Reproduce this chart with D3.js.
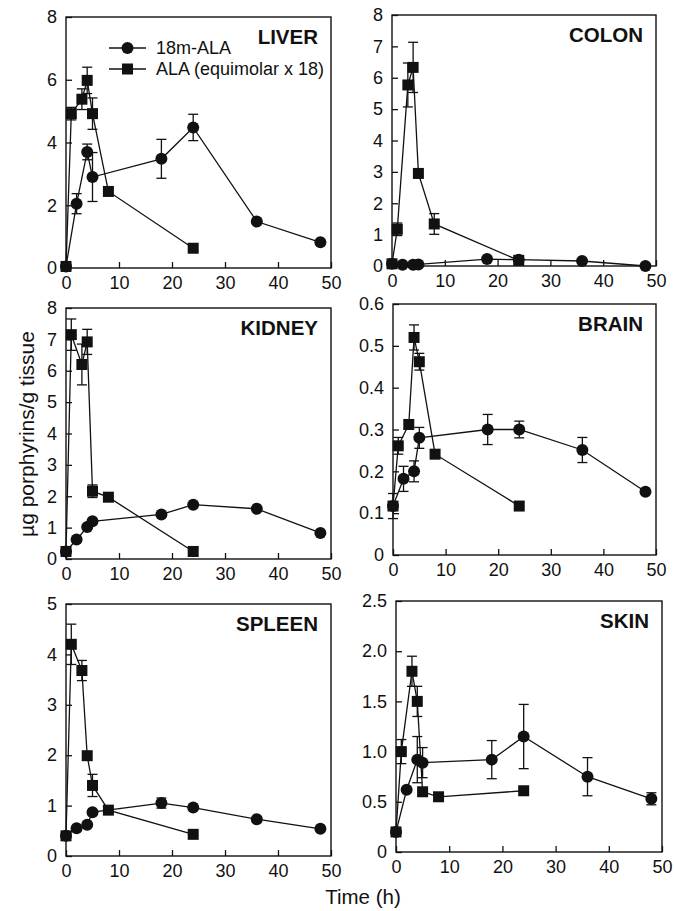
<!DOCTYPE html>
<html>
<head>
<meta charset="utf-8">
<script src="https://cdn.jsdelivr.net/npm/d3@7"></script>
<style>
  body { margin: 0; background: #fff; }
  svg { display: block; font-family: "Liberation Sans", Arial, Helvetica, sans-serif; }
</style>
</head>
<body>
<div id="chart"></div>
<script>
// sampling times (h)
var timesMALA = [0, 2, 4, 5, 18, 24, 36, 48];
var timesALA = [0, 1, 3, 4, 5, 8, 24];

// 18m-ALA series (mean, sd) per tissue
var liverMALA = [0.05, 2.05, 3.7, 2.9, 3.48, 4.48, 1.48, 0.82];
var liverMALAsd = [0, 0.32, 0.25, 0.78, 0.62, 0.42, 0, 0];
var colonMALA = [0.07, 0.04, 0.04, 0.05, 0.22, 0.2, 0.16, 0.0];
var colonMALAsd = [0, 0, 0, 0, 0, 0, 0.03, 0];
var kidneyMALA = [0.24, 0.62, 1.02, 1.2, 1.42, 1.73, 1.6, 0.83];
var kidneyMALAsd = [0, 0, 0, 0, 0, 0, 0, 0];
var brainMALA = [0.117, 0.182, 0.2, 0.28, 0.3, 0.3, 0.251, 0.151];
var brainMALAsd = [0.03, 0.03, 0.025, 0.025, 0.036, 0.02, 0.03, 0];
var spleenMALA = [0.4, 0.55, 0.62, 0.87, 1.05, 0.96, 0.73, 0.54];
var spleenMALAsd = [0, 0, 0, 0, 0.1, 0, 0.05, 0];
var skinMALA = [0.2, 0.62, 0.92, 0.89, 0.92, 1.15, 0.75, 0.53];
var skinMALAsd = [0, 0, 0.23, 0.15, 0.19, 0.32, 0.19, 0.06];

// ALA (equimolar x 18) series (mean, sd) per tissue
var liverALA = [0.05, 4.92, 5.38, 5.98, 4.92, 2.44, 0.63];
var liverALAsd = [0, 0.2, 0.33, 0.42, 0.5, 0, 0];
var colonALA = [0.07, 1.17, 5.77, 6.33, 2.95, 1.34, 0.18];
var colonALAsd = [0, 0.2, 0.7, 0.8, 0, 0.33, 0];
var kidneyALA = [0.24, 7.15, 6.2, 6.92, 2.16, 1.97, 0.24];
var kidneyALAsd = [0, 0.5, 0.65, 0.4, 0.2, 0, 0];
var brainALA = [0.117, 0.261, 0.312, 0.52, 0.462, 0.241, 0.117];
var brainALAsd = [0, 0.02, 0.01, 0.03, 0.02, 0, 0];
var spleenALA = [0.4, 4.2, 3.68, 1.99, 1.4, 0.91, 0.43];
var spleenALAsd = [0, 0.4, 0.2, 0, 0.22, 0, 0];
var skinALA = [0.2, 1.0, 1.8, 1.5, 0.6, 0.55, 0.61];
var skinALAsd = [0, 0.12, 0.15, 0.15, 0, 0, 0];

// y axis ticks per tissue
var liverTicks = [0, 2, 4, 6, 8];
var colonTicks = [0, 1, 2, 3, 4, 5, 6, 7, 8];
var kidneyTicks = [0, 1, 2, 3, 4, 5, 6, 7, 8];
var brainTicks = [0, 0.1, 0.2, 0.3, 0.4, 0.5, 0.6];
var spleenTicks = [0, 1, 2, 3, 4, 5];
var skinTicks = [0, 0.5, 1.0, 1.5, 2.0, 2.5];
var xTicks = [0, 10, 20, 30, 40, 50];

var seriesNames = ["18m-ALA", "ALA (equimolar x 18)"];

var panels = [
    {name: "LIVER", mala: liverMALA, malaSd: liverMALAsd, ala: liverALA, alaSd: liverALAsd, ticks: liverTicks, fmt: d3.format("d"),
        x0: 66, x1: 331, y0: 17, y1: 268},
    {name: "COLON", mala: colonMALA, malaSd: colonMALAsd, ala: colonALA, alaSd: colonALAsd, ticks: colonTicks, fmt: d3.format("d"),
        x0: 392, x1: 656, y0: 15, y1: 266},
    {name: "KIDNEY", mala: kidneyMALA, malaSd: kidneyMALAsd, ala: kidneyALA, alaSd: kidneyALAsd, ticks: kidneyTicks, fmt: d3.format("d"),
        x0: 66, x1: 331, y0: 308, y1: 559},
    {name: "BRAIN", mala: brainMALA, malaSd: brainMALAsd, ala: brainALA, alaSd: brainALAsd, ticks: brainTicks,
        fmt: function (d) { return d === 0 ? "0" : d3.format(".1f")(d); },
        x0: 393, x1: 656, y0: 304, y1: 555},
    {name: "SPLEEN", mala: spleenMALA, malaSd: spleenMALAsd, ala: spleenALA, alaSd: spleenALAsd, ticks: spleenTicks, fmt: d3.format("d"),
        x0: 66, x1: 331, y0: 604, y1: 856},
    {name: "SKIN", mala: skinMALA, malaSd: skinMALAsd, ala: skinALA, alaSd: skinALAsd, ticks: skinTicks,
        fmt: function (d) { return d === 0 ? "0" : d3.format(".1f")(d); },
        x0: 396, x1: 662, y0: 601, y1: 852}
];

var width = 674, height = 911;
var ink = "#111";

var svg = d3.select("#chart").append("svg")
    .attr("width", width)
    .attr("height", height);

function drawMarker(sel, shape) {
    if (shape == "circle") {
        sel.append("circle").attr("r", 6).attr("fill", ink);
    } else {
        sel.append("rect").attr("x", -5.5).attr("y", -5.5)
            .attr("width", 11).attr("height", 11).attr("fill", ink);
    }
}

panels.forEach(function (p) {
    var x = d3.scaleLinear().domain([0, 50]).range([p.x0, p.x1]);
    var y = d3.scaleLinear().domain([0, d3.max(p.ticks)]).range([p.y1, p.y0]);

    var g = svg.append("g");

    // axes with inward ticks
    g.append("g")
        .attr("transform", "translate(0," + p.y1 + ")")
        .call(d3.axisBottom(x).tickValues(xTicks).tickSizeInner(-6).tickSizeOuter(0).tickPadding(8))
        .call(function (a) { a.select(".domain").remove(); })
        .call(function (a) {
            a.selectAll("line").attr("stroke", ink).attr("stroke-width", 1.3);
            a.selectAll("text").attr("font-size", 18).attr("fill", ink).attr("font-family", null);
        });

    g.append("g")
        .attr("transform", "translate(" + p.x0 + ",0)")
        .call(d3.axisLeft(y).tickValues(p.ticks).tickFormat(p.fmt).tickSizeInner(-6).tickSizeOuter(0).tickPadding(9))
        .call(function (a) { a.select(".domain").remove(); })
        .call(function (a) {
            a.selectAll("line").attr("stroke", ink).attr("stroke-width", 1.3);
            a.selectAll("text").attr("font-size", 18).attr("fill", ink).attr("font-family", null);
        });

    // frame
    g.append("rect")
        .attr("x", p.x0).attr("y", p.y0)
        .attr("width", p.x1 - p.x0).attr("height", p.y1 - p.y0)
        .attr("fill", "none").attr("stroke", ink).attr("stroke-width", 1.4);

    var groups = [
        {t: timesALA, v: p.ala, sd: p.alaSd, shape: "square"},
        {t: timesMALA, v: p.mala, sd: p.malaSd, shape: "circle"}
    ];

    var line = d3.line()
        .x(function (d) { return x(d.t); })
        .y(function (d) { return y(d.v); });

    groups.forEach(function (s) {
        var pts = s.t.map(function (t, i) { return {t: t, v: s.v[i], sd: s.sd[i]}; });

        g.append("path")
            .datum(pts)
            .attr("d", line)
            .attr("fill", "none")
            .attr("stroke", ink)
            .attr("stroke-width", 1.3);

        // error bars
        var eb = g.append("g").selectAll("g")
            .data(pts.filter(function (d) { return d.sd > 0; }))
            .enter().append("g")
            .attr("stroke", ink)
            .attr("stroke-width", 1.3);
        eb.append("line")
            .attr("x1", function (d) { return x(d.t); })
            .attr("x2", function (d) { return x(d.t); })
            .attr("y1", function (d) { return y(d.v - d.sd); })
            .attr("y2", function (d) { return y(d.v + d.sd); });
        [-1, 1].forEach(function (k) {
            eb.append("line")
                .attr("x1", function (d) { return x(d.t) - 5; })
                .attr("x2", function (d) { return x(d.t) + 5; })
                .attr("y1", function (d) { return y(d.v + k * d.sd); })
                .attr("y2", function (d) { return y(d.v + k * d.sd); });
        });

        var m = g.append("g").selectAll("g")
            .data(pts)
            .enter().append("g")
            .attr("transform", function (d) { return "translate(" + x(d.t) + "," + y(d.v) + ")"; });
        drawMarker(m, s.shape);
    });

    // panel title
    g.append("text")
        .attr("x", p.x1 - 13)
        .attr("y", p.y0 + 27)
        .attr("text-anchor", "end")
        .attr("font-size", 20.5)
        .attr("font-weight", "bold")
        .attr("fill", ink)
        .text(p.name);
});

// legend (inside liver panel)
var legend = svg.append("g").selectAll("g")
    .data(seriesNames)
    .enter().append("g")
    .attr("transform", function (d, i) { return "translate(109," + (48 + i * 21) + ")"; });
legend.append("line")
    .attr("x1", 0).attr("x2", 37)
    .attr("stroke", ink).attr("stroke-width", 1.3);
legend.each(function (d, i) {
    var mk = d3.select(this).append("g").attr("transform", "translate(18.5,0)");
    drawMarker(mk, i == 0 ? "circle" : "square");
});
legend.append("text")
    .attr("x", 47)
    .attr("dy", "0.35em")
    .attr("font-size", 18)
    .attr("fill", ink)
    .text(function (d) { return d; });

// axis titles
svg.append("text")
    .attr("transform", "translate(34,434) rotate(-90)")
    .attr("text-anchor", "middle")
    .attr("font-size", 21)
    .attr("fill", ink)
    .text("µg porphyrins/g tissue");

svg.append("text")
    .attr("x", 363)
    .attr("y", 904)
    .attr("text-anchor", "middle")
    .attr("font-size", 20.5)
    .attr("fill", ink)
    .text("Time (h)");
</script>
</body>
</html>
